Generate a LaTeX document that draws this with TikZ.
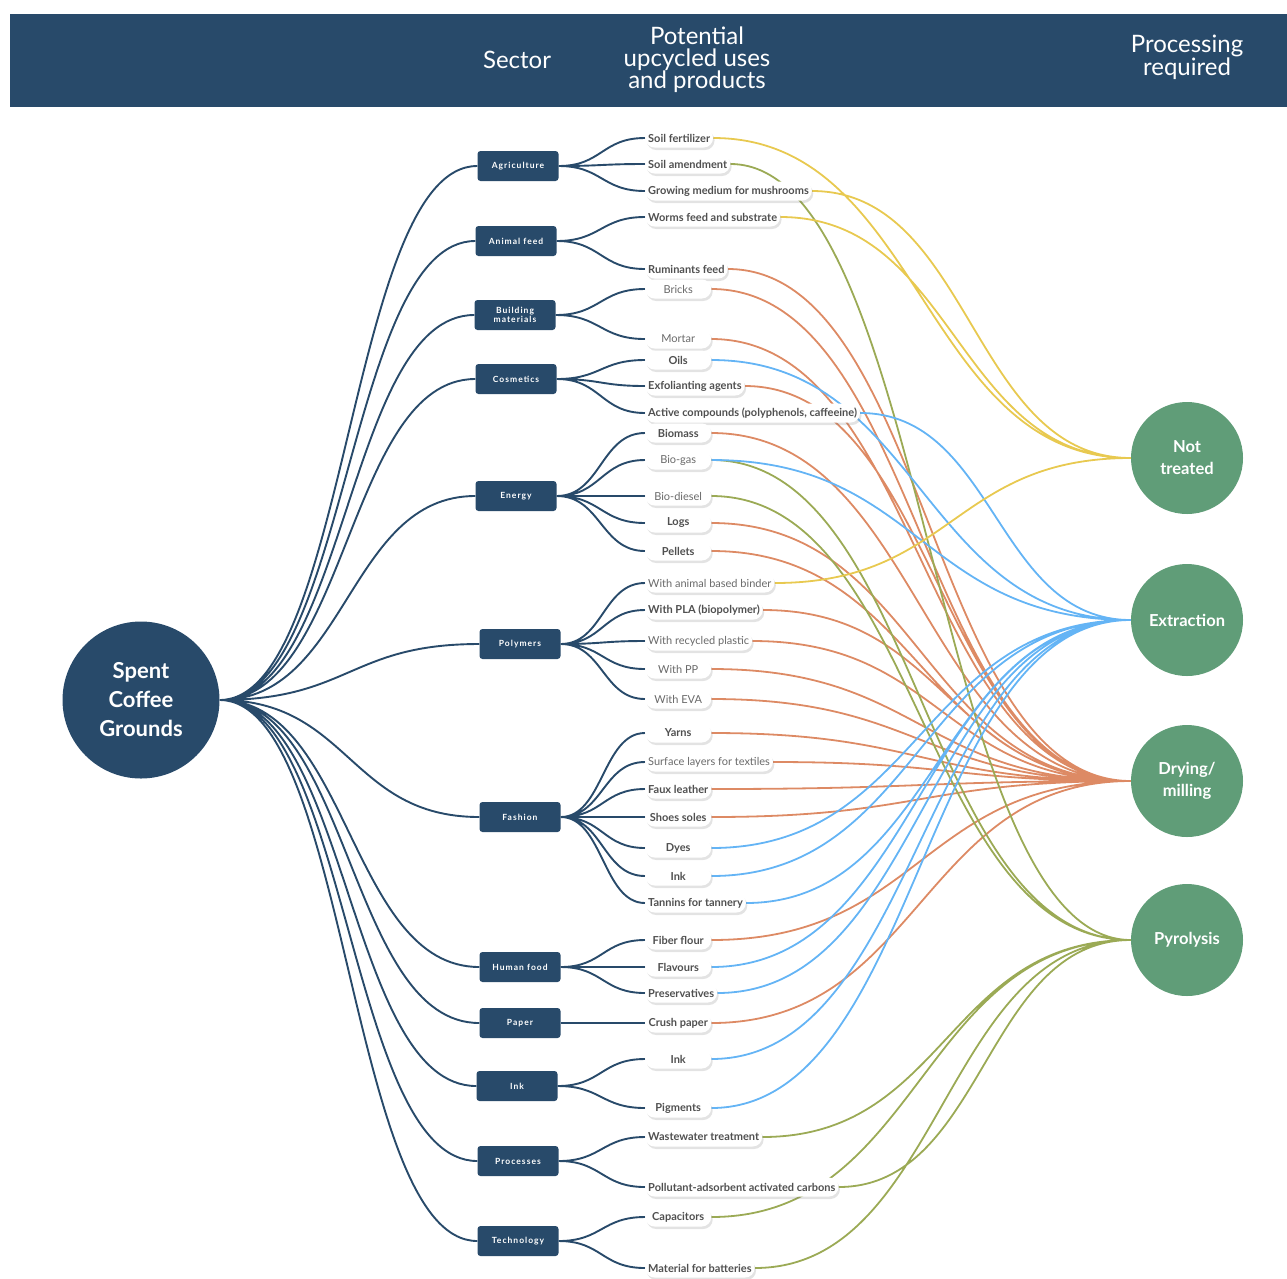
\documentclass[tikz,border=0pt]{standalone}
\usepackage{fontspec}
\setmainfont{Lato}
\usepackage{tikz}
\usetikzlibrary{calc,shadows,backgrounds}
\definecolor{navy}{RGB}{40,74,106}
\definecolor{sage}{RGB}{96,157,120}
\definecolor{ntcol}{RGB}{232,201,80}
\definecolor{excol}{RGB}{100,180,245}
\definecolor{drcol}{RGB}{221,138,100}
\definecolor{pycol}{RGB}{155,170,85}
\definecolor{pilltext}{RGB}{80,80,80}
\tikzset{
  root/.style={circle,fill=navy,minimum size=157pt,text=white,align=center,font=\fontsize{22}{29}\selectfont\bfseries},
  sector/.style={fill=navy,rounded corners=3pt,minimum width=81pt,minimum height=30pt,inner sep=1pt,text=white,align=center,font=\fontsize{8.5}{9.5}\selectfont\bfseries\addfontfeature{LetterSpace=12}},
  prod/.style={fill=white,rounded corners=9.5pt,minimum width=66pt,minimum height=19pt,inner xsep=3pt,inner ysep=1pt,anchor=west,text=pilltext,font=\fontsize{11}{11}\selectfont\bfseries,drop shadow={shadow xshift=1.5pt,shadow yshift=-2.5pt,opacity=.22}},
  prodlight/.style={prod,text=pilltext!85,font=\fontsize{11}{11}\selectfont},
  stage/.style={circle,fill=sage,minimum size=112pt,text=white,align=center,font=\fontsize{16.5}{22}\selectfont\bfseries},
  head/.style={text=white,align=center,font=\fontsize{24}{22}\selectfont},
  branch/.style={to path={.. controls ($(\tikztostart)!.5!(\tikztostart-|\tikztotarget)$) and ($(\tikztotarget)!.5!(\tikztotarget-|\tikztostart)$) .. (\tikztotarget)}},
  tree/.style={branch,draw=navy,line width=1.9pt},
  link/.style={branch,draw=#1,line width=1.8pt}
}
\begin{document}
\begin{tikzpicture}[x=1pt,y=-1pt]
    \useasboundingbox (0,0) rectangle (1287,1278);
    % header band
    \fill [navy] (10,14) rectangle (1287,107);
    \node [head] (hsector) at (517,60) {Sector};
    \node [head] (hpot) at (697,60) {Potential\\upcycled uses\\and products};
    \node [head] (hproc) at (1187,57) {Processing\\required};

    \node [root] (scg) at (141,700) {Spent\\Coffee\\Grounds};

    % sectors
    \node [sector] (agri) at (518,166) {Agriculture};
    \node [sector] (feed) at (516,241) {Animal feed};
    \node [sector] (build) at (515,315) {Building\\materials};
    \node [sector] (cosm) at (516,379) {Cosmetics};
    \node [sector] (energy) at (516,496) {Energy};
    \node [sector] (poly) at (520,644) {Polymers};
    \node [sector] (fash) at (520,817) {Fashion};
    \node [sector] (food) at (520,967) {Human food};
    \node [sector] (paper) at (520,1023) {Paper};
    \node [sector] (ink) at (517,1086) {Ink};
    \node [sector] (procs) at (518,1161) {Processes};
    \node [sector] (tech) at (518,1241) {Technology};

    % uses and products
    \node [prod] (fert) at (645,138) {Soil fertilizer};
    \node [prod] (amend) at (645,164) {Soil amendment};
    \node [prod] (mush) at (645,191) {Growing medium for mushrooms};
    \node [prod] (worms) at (645,217) {Worms feed and substrate};
    \node [prod] (rumin) at (645,269) {Ruminants feed};
    \node [prodlight] (bricks) at (645,289) {Bricks};
    \node [prodlight] (mortar) at (645,339) {Mortar};
    \node [prod] (oils) at (645,360) {Oils};
    \node [prod] (exfol) at (645,386) {Exfolianting agents};
    \node [prod] (active) at (645,413) {Active compounds (polyphenols, caffeeine)};
    \node [prod] (biomass) at (645,433) {Biomass};
    \node [prodlight] (biogas) at (645,460) {Bio-gas};
    \node [prodlight] (biodiesel) at (645,496) {Bio-diesel};
    \node [prod] (logs) at (645,523) {Logs};
    \node [prod] (pellets) at (645,551) {Pellets};
    \node [prodlight] (binder) at (645,583) {With animal based binder};
    \node [prod] (pla) at (645,610) {With PLA (biopolymer)};
    \node [prodlight] (recyc) at (645,641) {With recycled plastic};
    \node [prodlight] (pp) at (645,669) {With PP};
    \node [prodlight] (eva) at (645,699) {With EVA};
    \node [prod] (yarns) at (645,733) {Yarns};
    \node [prodlight] (surf) at (645,762) {Surface layers for textiles};
    \node [prod] (faux) at (645,789) {Faux leather};
    \node [prod] (soles) at (645,817) {Shoes soles};
    \node [prod] (dyes) at (645,848) {Dyes};
    \node [prod] (inkf) at (645,876) {Ink};
    \node [prod] (tannins) at (645,903) {Tannins for tannery};
    \node [prod] (flour) at (645,940) {Fiber flour};
    \node [prod] (flav) at (645,967) {Flavours};
    \node [prod] (pres) at (645,993) {Preservatives};
    \node [prod] (crush) at (645,1023) {Crush paper};
    \node [prod] (inki) at (645,1059) {Ink};
    \node [prod] (pigm) at (645,1108) {Pigments};
    \node [prod] (waste) at (645,1137) {Wastewater treatment};
    \node [prod] (carbons) at (645,1187) {Pollutant-adsorbent activated carbons};
    \node [prod] (capac) at (645,1217) {Capacitors};
    \node [prod] (batt) at (645,1268) {Material for batteries};

    % processing
    \node [stage] (nt) at (1187,458) {Not\\treated};
    \node [stage] (ext) at (1187,620) {Extraction};
    \node [stage] (dry) at (1187,781) {Drying/\\milling};
    \node [stage] (pyro) at (1187,940) {Pyrolysis};

    \begin{scope}[on background layer]
    \draw [tree] (scg.east) to (agri.west) (scg.east) to (feed.west) (scg.east) to (build.west)
      (scg.east) to (cosm.west) (scg.east) to (energy.west) (scg.east) to (poly.west)
      (scg.east) to (fash.west) (scg.east) to (food.west) (scg.east) to (paper.west)
      (scg.east) to (ink.west) (scg.east) to (procs.west) (scg.east) to (tech.west);

    \draw [tree] (agri.east) to (fert.west) (agri.east) to (amend.west) (agri.east) to (mush.west);
    \draw [tree] (feed.east) to (worms.west) (feed.east) to (rumin.west);
    \draw [tree] (build.east) to (bricks.west) (build.east) to (mortar.west);
    \draw [tree] (cosm.east) to (oils.west) (cosm.east) to (exfol.west) (cosm.east) to (active.west);
    \draw [tree] (energy.east) to (biomass.west) (energy.east) to (biogas.west) (energy.east) to (biodiesel.west)
      (energy.east) to (logs.west) (energy.east) to (pellets.west);
    \draw [tree] (poly.east) to (binder.west) (poly.east) to (pla.west) (poly.east) to (recyc.west)
      (poly.east) to (pp.west) (poly.east) to (eva.west);
    \draw [tree] (fash.east) to (yarns.west) (fash.east) to (surf.west) (fash.east) to (faux.west)
      (fash.east) to (soles.west) (fash.east) to (dyes.west) (fash.east) to (inkf.west) (fash.east) to (tannins.west);
    \draw [tree] (food.east) to (flour.west) (food.east) to (flav.west) (food.east) to (pres.west);
    \draw [tree] (paper.east) to (crush.west);
    \draw [tree] (ink.east) to (inki.west) (ink.east) to (pigm.west);
    \draw [tree] (procs.east) to (waste.west) (procs.east) to (carbons.west);
    \draw [tree] (tech.east) to (capac.west) (tech.east) to (batt.west);

    \draw [link=drcol] (rumin.east) to (dry.west) (bricks.east) to (dry.west) (mortar.east) to (dry.west)
      (exfol.east) to (dry.west) (biomass.east) to (dry.west) (logs.east) to (dry.west) (pellets.east) to (dry.west)
      (pla.east) to (dry.west) (recyc.east) to (dry.west) (pp.east) to (dry.west) (eva.east) to (dry.west)
      (yarns.east) to (dry.west) (surf.east) to (dry.west) (faux.east) to (dry.west) (soles.east) to (dry.west)
      (flour.east) to (dry.west) (crush.east) to (dry.west);
    \draw [link=pycol] (amend.east) to (pyro.west) (biogas.east) to (pyro.west) (biodiesel.east) to (pyro.west)
      (waste.east) to (pyro.west) (carbons.east) to (pyro.west) (capac.east) to (pyro.west) (batt.east) to (pyro.west);
    \draw [link=excol] (oils.east) to (ext.west) (active.east) to (ext.west) (biogas.east) to (ext.west)
      (dyes.east) to (ext.west) (inkf.east) to (ext.west) (tannins.east) to (ext.west) (flav.east) to (ext.west)
      (pres.east) to (ext.west) (inki.east) to (ext.west) (pigm.east) to (ext.west);
    \draw [link=ntcol] (fert.east) to (nt.west) (mush.east) to (nt.west) (worms.east) to (nt.west) (binder.east) to (nt.west);
    \end{scope}
\end{tikzpicture}
\end{document}
